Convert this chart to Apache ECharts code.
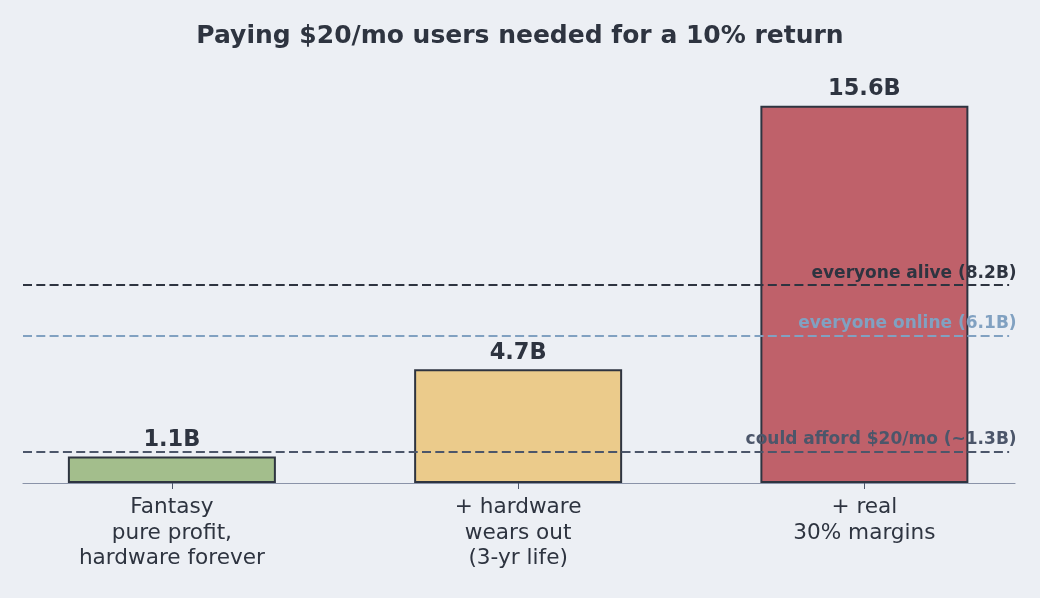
<!DOCTYPE html>
<html><head><meta charset="utf-8">
<script src="https://cdn.jsdelivr.net/npm/echarts@6/dist/echarts.min.js"></script>
<style>html,body{margin:0;padding:0;background:#eceff4;}#c{width:1040px;height:598px;}</style>
</head><body><div id="c"></div>
<script>
const categories = ['Fantasy\npure profit,\nhardware forever', '+ hardware\nwears out\n(3-yr life)', '+ real\n30% margins'];
const values = [1.1, 4.7, 15.6];
const barColors = ['#a3be8c', '#ebcb8b', '#bf616a'];
const refValues = [8.2, 6.1, 1.3];
const refLabels = ['everyone alive (8.2B)', 'everyone online (6.1B)', 'could afford $20/mo (~1.3B)'];
const refColors = ['#2e3440', '#81a1c1', '#4c566a'];

const chart = echarts.init(document.getElementById('c'), null, {renderer: 'canvas'});
const font = '"DejaVu Sans", Verdana, sans-serif';
chart.setOption({
  backgroundColor: '#eceff4',
  animation: false,
  title: {
    text: 'Paying $20/mo users needed for a 10% return',
    left: 'center', top: 19,
    textStyle: {fontFamily: font, fontSize: 25, fontWeight: 'bold', color: '#2e3440'}
  },
  grid: {left: 23, right: 25, top: 67, bottom: 115},
  xAxis: {
    type: 'value', min: -0.43, max: 2.435,
    splitLine: {show: false},
    axisLine: {show: true, lineStyle: {color: '#8a93a8', width: 1.2}},
    axisTick: {show: true, customValues: [0, 1, 2], length: 6, lineStyle: {color: '#4c566a'}},
    axisLabel: {
      customValues: [0, 1, 2], margin: 12,
      formatter: v => categories[Math.round(v)],
      fontFamily: font, fontSize: 21.6, lineHeight: 25.5, color: '#2e3440'
    }
  },
  yAxis: {type: 'value', min: 0, max: 17.2, show: false, splitLine: {show: false}},
  series: [
    {
      type: 'bar', z: 2, barWidth: 208,
      data: values.map((v, i) => ({value: [i, v], itemStyle: {color: barColors[i]}})),
      itemStyle: {borderColor: '#2e3440', borderWidth: 2},
      label: {
        show: true, position: 'top', distance: 5,
        formatter: p => p.value[1] + 'B',
        fontFamily: font, fontSize: 22.5, fontWeight: 'bold', color: '#2e3440'
      }
    },
    {
      type: 'line', z: 5, data: [], symbol: 'none',
      markLine: {
        silent: true, symbol: 'none', animation: false,
        data: refValues.map((v, i) => ([
          {
            coord: [-0.43, v],
            lineStyle: {color: refColors[i], type: [9, 4.3], width: 2},
            label: {
              show: true, position: 'insideEndTop', formatter: refLabels[i], distance: [-7.5, 3],
              fontFamily: font, fontSize: 17, fontWeight: 'bold', color: refColors[i]
            }
          },
          {coord: [2.418, v]}
        ]))
      }
    }
  ]
});
</script></body></html>
